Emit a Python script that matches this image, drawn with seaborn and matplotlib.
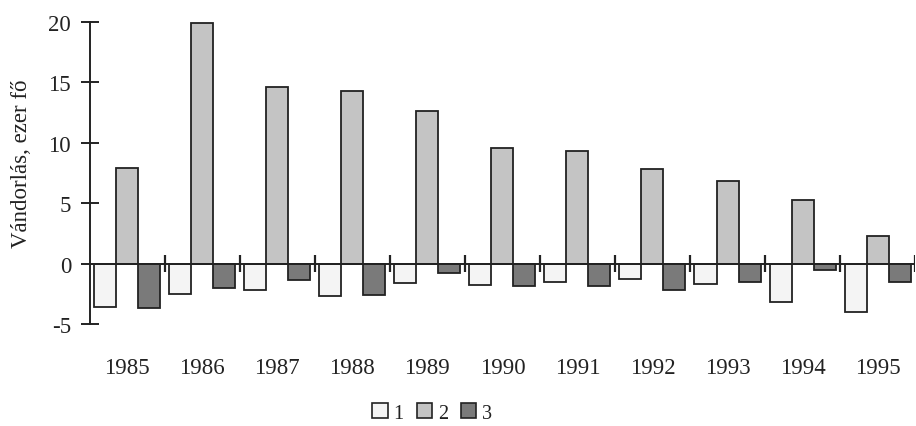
import matplotlib
matplotlib.use("Agg")
import matplotlib.pyplot as plt
import seaborn as sns
import pandas as pd
from matplotlib.patches import Patch

years = ["1985", "1986", "1987", "1988", "1989", "1990", "1991", "1992", "1993", "1994", "1995"]
series_names = ["1", "2", "3"]
s1 = [-3.6, -2.5, -2.2, -2.7, -1.6, -1.8, -1.5, -1.3, -1.7, -3.2, -4.0]
s2 = [7.9, 19.9, 14.6, 14.3, 12.6, 9.6, 9.3, 7.8, 6.8, 5.3, 2.3]
s3 = [-3.7, -2.0, -1.4, -2.6, -0.8, -1.85, -1.85, -2.2, -1.5, -0.5, -1.5]
colors = ["#f4f4f4", "#c4c4c4", "#7a7a7a"]
yticks = [-5, 0, 5, 10, 15, 20]

rows = []
for name, vals in zip(series_names, [s1, s2, s3]):
    for y, v in zip(years, vals):
        rows.append({"year": y, "series": name, "value": v})
df = pd.DataFrame(rows)

sns.set_theme(style="white")
plt.rcParams["font.family"] = ["Liberation Serif", "DejaVu Serif"]

fig = plt.figure(figsize=(9.16, 4.27), dpi=100)
ax = fig.add_axes([0.098, 0.239, 0.901, 0.707])

sns.barplot(data=df, x="year", y="value", hue="series", order=years,
            hue_order=series_names, palette=colors, width=0.88, gap=0,
            edgecolor="#222222", linewidth=1.3, saturation=1, legend=False, ax=ax)

n = len(years)
ax.set_xlim(-0.5, n - 0.5)
ax.set_ylim(-5, 20)
ax.axhline(0, color="#222222", lw=1.4, zorder=3)
bounds = [i + 0.5 for i in range(n)]
ax.vlines(bounds, -0.7, 0.7, color="#222222", lw=1.6, zorder=3)

for sp in ["top", "right", "bottom"]:
    ax.spines[sp].set_visible(False)
ax.spines["left"].set_color("#222222")
ax.spines["left"].set_linewidth(1.4)
ax.spines["left"].set_bounds(-5, 20)

ax.set_yticks(yticks)
ax.set_yticklabels([str(t) for t in yticks])
ax.tick_params(axis="y", direction="inout", length=13, width=1.4, color="#222222",
               labelsize=16.5, pad=7, left=True)
ax.tick_params(axis="x", length=0, labelsize=16.5, pad=24)
for lab in ax.get_xticklabels() + ax.get_yticklabels():
    lab.set_color("#222222")
ax.set_xlabel("")
ax.set_ylabel("Vándorlás, ezer fő", fontsize=16.5, color="#222222")
ax.yaxis.set_label_coords(-0.070, 0.533)

handles = [Patch(facecolor=c, edgecolor="#222222", linewidth=1.2, label=s)
           for c, s in zip(colors, series_names)]
fig.legend(handles=handles, loc="center", bbox_to_anchor=(0.472, 0.03), ncol=3,
           frameon=False, fontsize=14.5, handlelength=0.75, handleheight=0.75,
           handletextpad=0.3, columnspacing=0.65, labelcolor="#222222",
           borderpad=0.1)

fig.savefig("out.png", dpi=100, facecolor="white")
